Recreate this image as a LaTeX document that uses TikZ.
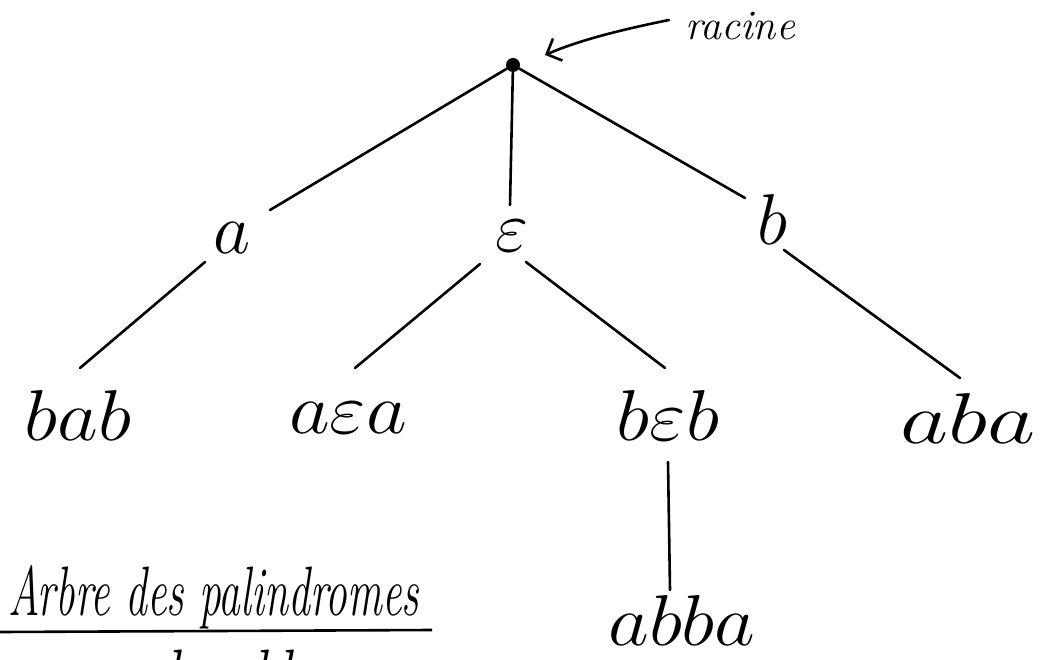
\RequirePackage{fix-cm}
\documentclass[tikz,border=0pt]{standalone}
\usetikzlibrary{arrows.meta}
\begin{document}
\begin{tikzpicture}[x=1pt,y=-1pt,
  edge/.style={line width=2.6pt,line cap=round},
  lab/.style={inner sep=0pt,font=\fontsize{72}{80}\selectfont},
  title/.style={inner sep=0pt,font=\fontsize{70}{74}\selectfont\itshape}]
\useasboundingbox (0,0) rectangle (1046,660);
\clip (0,0) rectangle (1046,660);
\node[circle,fill,inner sep=0pt,minimum size=14pt] (root) at (513,65) {};
\node[inner sep=0pt,font=\fontsize{42}{46}\selectfont\itshape] (rac) at (740,26) {racine};
\draw[edge,-{Straight Barb[length=12pt,width=24pt]}] ([xshift=-16pt,yshift=6pt]rac.west) .. controls (620,30) and (580,40) .. (545,55);
\node[lab] (a) at (232,238) {$a$};
\node[lab] (eps) at (512,236) {$\varepsilon$};
\node[lab] (b) at (772,220) {$b$};
\draw[edge] (root) -- (270,210);
\draw[edge] (root) -- (510,205);
\draw[edge] (root) -- (745,198);
\node[lab] (bab) at (78,415) {\scalebox{1.1}[1]{$bab$}};
\node[lab] (aea) at (348,418) {\scalebox{1.1}[1]{$a\varepsilon a$}};
\node[lab] (beb) at (668,415) {\scalebox{1.1}[1]{$b\varepsilon b$}};
\node[lab] (aba) at (968,418) {\scalebox{1.3}[1]{$aba$}};
\node[lab] (abba) at (682,620) {\scalebox{1.1}[1]{$abba$}};
\draw[edge] (205,262) -- (80,368);
\draw[edge] (480,264) -- (355,368);
\draw[edge] (526,262) -- (665,368);
\draw[edge] (784,250) -- (960,378);
\draw[edge] (668,462) -- (670,590);
\node[title,anchor=west] (t) at (8,597) {\scalebox{0.62}[1]{Arbre des palindromes}};
\draw[line width=2.6pt] (0,632) -- (432,630);
\node[title,anchor=north] (sub) at (240,650) {\scalebox{0.8}[1]{de abba}};
\end{tikzpicture}
\end{document}
